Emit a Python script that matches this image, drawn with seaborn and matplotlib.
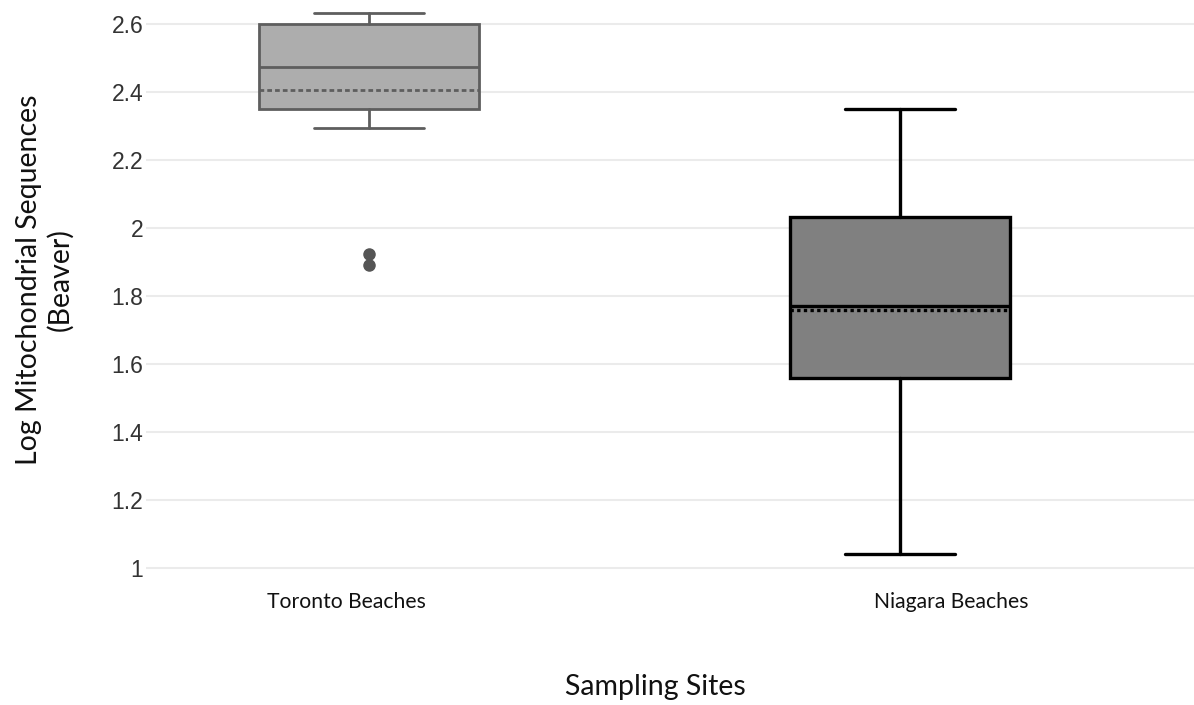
import matplotlib
matplotlib.use("Agg")
import matplotlib.pyplot as plt
import matplotlib.transforms as mtransforms
import seaborn as sns

# Summary statistics per sampling site (log-scaled mitochondrial sequence counts)
sites = ["Toronto Beaches", "Niagara Beaches"]
whisker_low = [2.295, 1.041]
q1 = [2.350, 1.559]
median = [2.474, 1.771]
q3 = [2.600, 2.032]
whisker_high = [2.632, 2.350]
means = [2.406, 1.759]
outliers = [[1.924, 1.891], []]

y_ticks = [1.0, 1.2, 1.4, 1.6, 1.8, 2.0, 2.2, 2.4, 2.6]
y_tick_labels = ["1", "1.2", "1.4", "1.6", "1.8", "2", "2.2", "2.4", "2.6"]

fill_colors = ["#adadad", "#808080"]
edge_colors = ["#5e5e5e", "#000000"]
mean_styles = [(0, (1.7, 1.1)), (0, (1, 1))]
edge_widths = [2.0, 2.4]

sns.set_theme(style="whitegrid")
plt.rcParams["font.family"] = ["Liberation Sans", "DejaVu Sans"]

fig = plt.figure(figsize=(11.94, 7.05), dpi=100)
ax = fig.add_axes([146 / 1194, 1 - 575 / 705, 1 - 146 / 1194, 575 / 705])

for i, site in enumerate(sites):
    stats = [{
        "label": site,
        "whislo": whisker_low[i],
        "q1": q1[i],
        "med": median[i],
        "q3": q3[i],
        "whishi": whisker_high[i],
        "mean": means[i],
        "fliers": outliers[i],
    }]
    ec = edge_colors[i]
    lw = edge_widths[i]
    ax.bxp(
        stats,
        positions=[i],
        widths=0.414,
        patch_artist=True,
        showmeans=True,
        meanline=True,
        showfliers=True,
        boxprops=dict(facecolor=fill_colors[i], edgecolor=ec, linewidth=lw),
        medianprops=dict(color=ec, linewidth=lw),
        meanprops=dict(color=ec, linewidth=lw, linestyle=mean_styles[i]),
        whiskerprops=dict(color=ec, linewidth=lw),
        capprops=dict(color=ec, linewidth=lw),
        capwidths=0.207,
        flierprops=dict(marker="o", markersize=8, markerfacecolor="#555555",
                        markeredgecolor="#555555", linestyle="none"),
        manage_ticks=False,
    )

ax.set_xlim(-0.42, 1.554)
ax.set_ylim(0.979, 2.6706)
ax.set_yticks(y_ticks)
ax.set_yticklabels(y_tick_labels)
ax.set_xticks(range(len(sites)))
ax.set_xticklabels(sites)

ax.grid(axis="y", color="#ebebeb", linewidth=1.5)
ax.grid(axis="x", visible=False)
sns.despine(ax=ax, left=True, bottom=True)
ax.tick_params(axis="y", length=0, pad=2, labelsize=16.5, labelcolor="#333333")
ax.tick_params(axis="x", length=0, pad=12, labelsize=15.2, labelcolor="#111111")

# Category labels sit slightly off the box centres
label_shifts = [-23, 51]
for lbl, dx in zip(ax.get_xticklabels(), label_shifts):
    lbl.set_fontfamily(["Lato", "DejaVu Sans"])
    lbl.set_transform(lbl.get_transform() +
                      mtransforms.ScaledTranslation(dx / 100, 0, fig.dpi_scale_trans))

fig.text(45 / 1194, 1 - 280 / 705, "Log Mitochondrial Sequences\n(Beaver)",
         rotation=90, ha="center", va="center", multialignment="center",
         fontsize=20.5, family=["Lato", "DejaVu Sans"], color="#111111")
fig.text(655 / 1194, 1 - 687 / 705, "Sampling Sites",
         ha="center", va="center", fontsize=20.5,
         family=["Lato", "DejaVu Sans"], color="#111111")

fig.savefig("out.png", dpi=100, facecolor="white")
